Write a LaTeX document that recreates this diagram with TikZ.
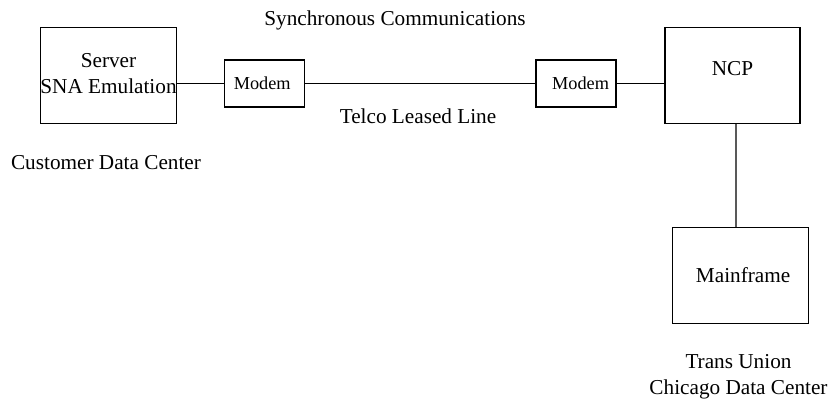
\documentclass[tikz,border=0pt]{standalone}
\usepackage{fontspec}
\setmainfont{Liberation Serif}
\usepackage{tikz}
\usetikzlibrary{calc,positioning}

\begin{document}
\begin{tikzpicture}[
  x=0.025cm, y=-0.025cm,
  box/.style={draw, line width=1pt, inner sep=0pt},
  txt/.style={font=\fontsize{15.1}{18.4}\selectfont, align=center, inner sep=0pt},
  modem/.style={box, minimum width=2.0cm, minimum height=1.175cm, font=\fontsize{13}{15}\selectfont},
  wire/.style={line width=1pt}
]
\useasboundingbox (0,0) rectangle (830,403);
\node[box, minimum width=3.4cm, minimum height=2.4cm] (server) at (108.5,75.5) {};
\node[txt] (srvtxt) at (108.5,74) {Server\\SNA Emulation};
\node[modem] (modemL) at (264.5,83.5) {Modem\ \ };
\node[modem] (modemR) at (576,83.5) {\ \ Modem};
\node[box, minimum width=3.375cm, minimum height=2.4cm] (ncp) at (732.5,75.5) {};
\node[txt] (ncptxt) at (732.5,69) {NCP};
\node[box, minimum width=3.4cm, minimum height=2.4cm, txt] (mainframe) at (740.5,275.5) {\ Mainframe};
\node[txt] (sync) at (395,20) {Synchronous Communications};
\node[txt] (telco) at (418,116) {Telco Leased Line};
\node[txt] (custdc) at (106,163) {Customer Data Center};
\node[txt] (tudc) at (738.5,377) {Trans Union\\Chicago Data Center};
\draw[wire] (modemL.west -| server.east) -- (modemL.west);
\draw[wire] (modemL.east) -- (modemR.west);
\draw[wire] (modemR.east) -- (modemR.east -| ncp.west);
\draw[wire] ([xshift=0.0875cm]ncp.south) -- ([xshift=-0.1125cm]mainframe.north);
\end{tikzpicture}
\end{document}
